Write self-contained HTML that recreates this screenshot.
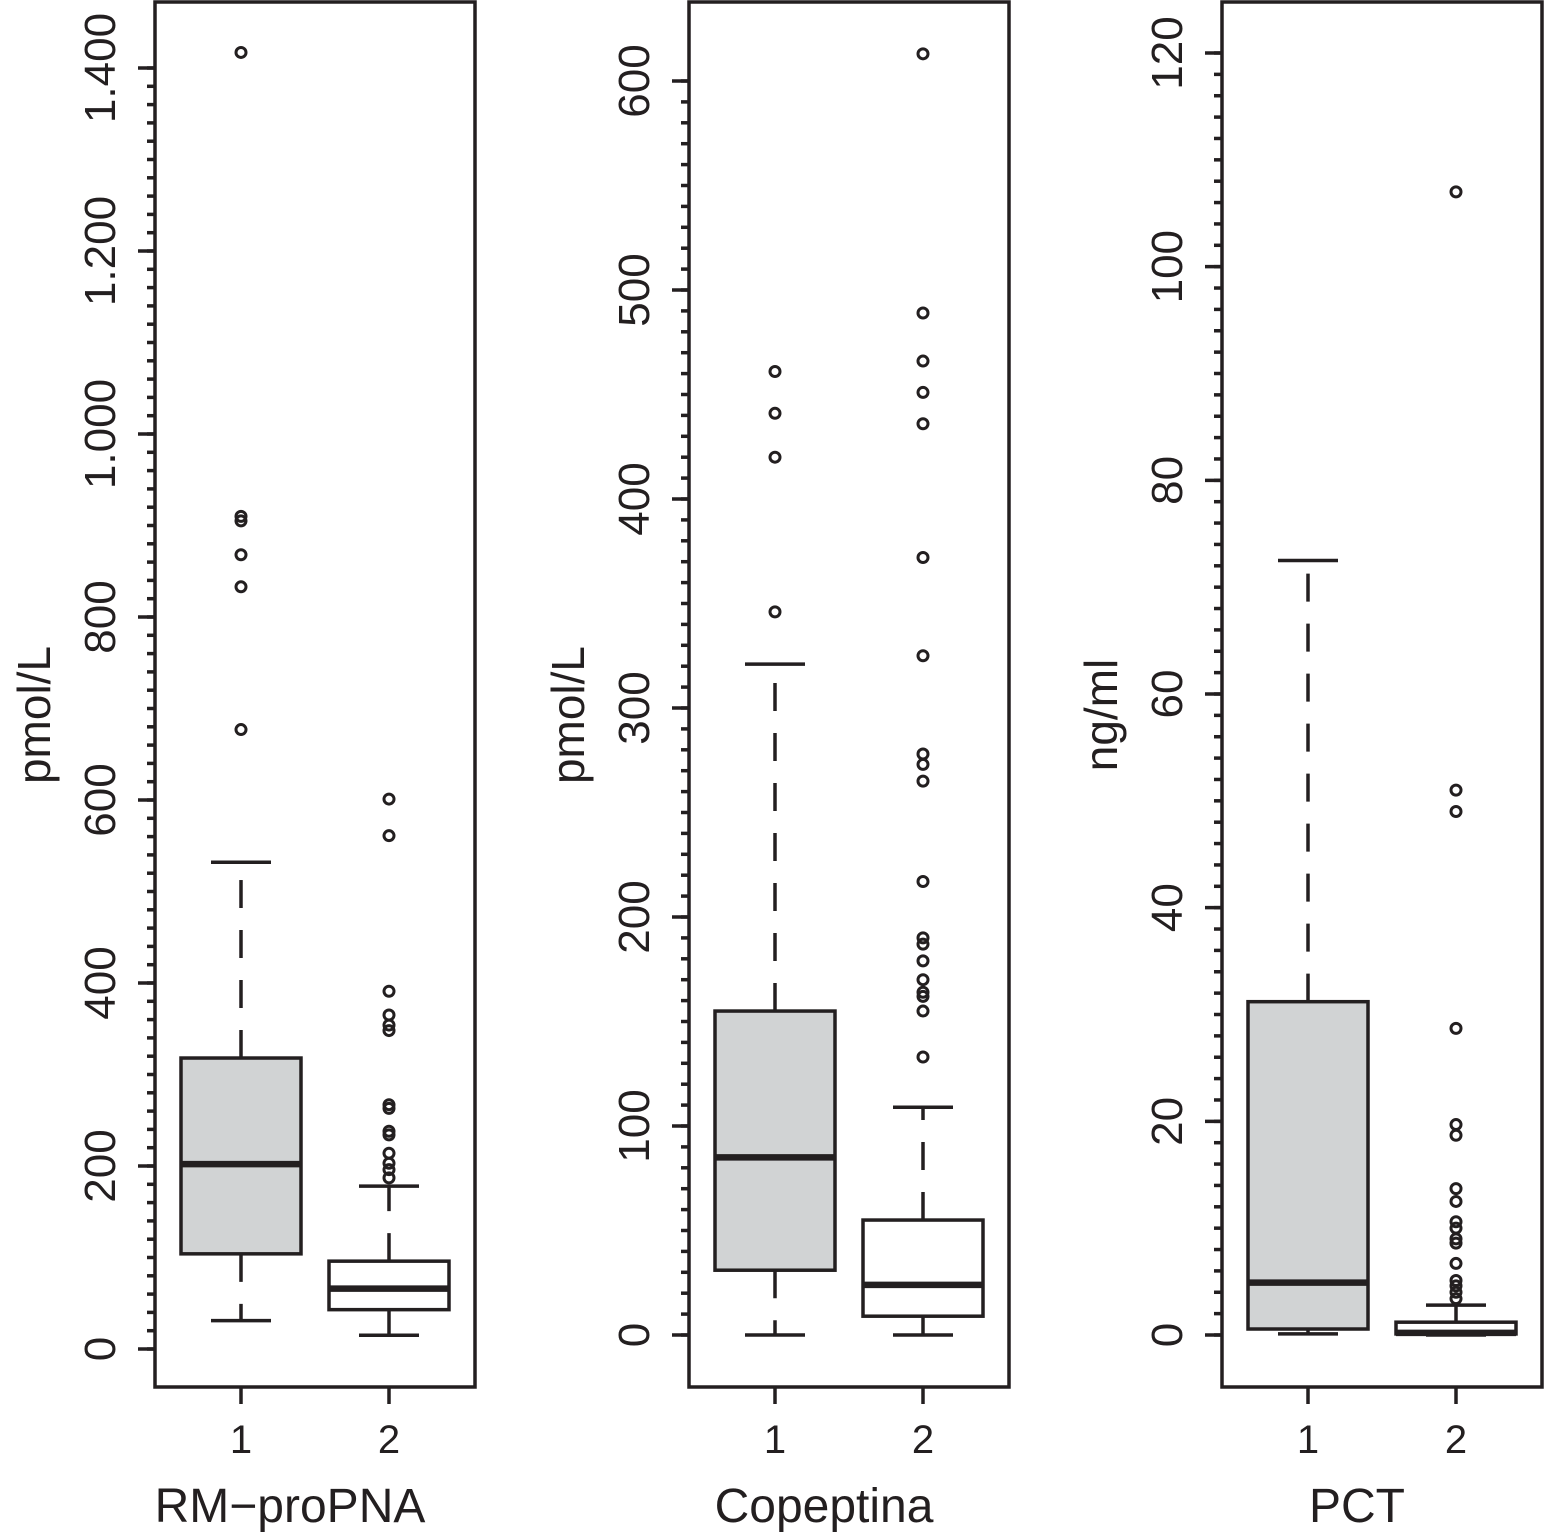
<!DOCTYPE html>
<html><head><meta charset="utf-8"><style>
html,body{margin:0;padding:0;background:#fff}
svg{display:block;font-family:"Liberation Sans",sans-serif}
</style></head><body>
<svg id="c" width="1545" height="1533" viewBox="0 0 1545 1533"></svg>
<script>
// Panel 1: RM-proPNA
const p1Stats=[[31,104,202,318,532],[15,43,66,96,178]];
const p1Out=[[1417,833,868,905,910,677],[601,561,391,365,354,348,267,263,238,234,214,203,196,187]];
const p1Ticks=[0,200,400,600,800,1000,1200,1400];
const p1TickLabels=["0","200","400","600","800","1.000","1.200","1.400"];
// Panel 2: Copeptina
const p2Stats=[[0,31,85,155,321],[0,9,24,55,109]];
const p2Out=[[461,441,420,346],[613,489,466,451,436,372,325,278,273,265,217,190,187,179,170,164,162,155,133]];
const p2Ticks=[0,100,200,300,400,500,600];
const p2TickLabels=["0","100","200","300","400","500","600"];
// Panel 3: PCT
const p3Stats=[[0.1,0.56,4.9,31.2,72.5],[0,0.1,0.2,1.2,2.8]];
const p3Out=[[],[107,51,49,28.7,19.7,18.7,13.7,12.5,10.6,10,9,8.6,6.7,5.1,4.6,4,3.4]];
const p3Ticks=[0,20,40,60,80,100,120];
const p3TickLabels=["0","20","40","60","80","100","120"];
const groupLabels=["1","2"];
const titles=["RM\u2212proPNA","Copeptina","PCT"];
const ylabels=["pmol/L","pmol/L","ng/ml"];

const svg=document.getElementById('c');
const NS='http://www.w3.org/2000/svg';
function mk(t,a,parent){const e=document.createElementNS(NS,t);for(const k in a)e.setAttribute(k,a[k]);(parent||svg).appendChild(e);return e;}

const panels=[
 {x0:155,stats:p1Stats,out:p1Out,ticks:p1Ticks,tl:p1TickLabels,y0:1349,ytop:68,vtop:1400,minor:20},
 {x0:689,stats:p2Stats,out:p2Out,ticks:p2Ticks,tl:p2TickLabels,y0:1335,ytop:81,vtop:600,minor:10},
 {x0:1222,stats:p3Stats,out:p3Out,ticks:p3Ticks,tl:p3TickLabels,y0:1335,ytop:53,vtop:120,minor:2}
];
const SW=3.5;
panels.forEach((p,pi)=>{
 const g=mk('g',{});
 
 
 const y=v=>p.y0-(v/p.vtop)*(p.y0-p.ytop);
 const x1=p.x0;
 const fr=mk('rect',{x:x1,y:2,width:320,height:1385,fill:'none',stroke:'#231f20','stroke-width':SW},g);
 
 
 for(let v=0;v<=p.vtop+1e-9;v+=p.minor){
  const t=mk('line',{x1:x1-8,x2:x1,y1:y(v),y2:y(v),stroke:'#231f20','stroke-width':SW},g);
  
  
 }
 p.ticks.forEach((v,i)=>{
  const t=mk('line',{x1:x1-17,x2:x1,y1:y(v),y2:y(v),stroke:'#231f20','stroke-width':SW},g);
  
  
  const lx=x1-40, ly=y(v);
  const tx=mk('text',{x:lx,y:ly,'font-size':44,fill:'#231f20','text-anchor':'middle',transform:`rotate(-90 ${lx} ${ly})`},g);
  tx.textContent=p.tl[i];
  
  
 });
 const yl=mk('text',{x:x1-105,y:715,'font-size':46,fill:'#231f20','text-anchor':'middle',transform:`rotate(-90 ${x1-105} 715)`},g);
 yl.textContent=ylabels[pi];
 
 
 const tt=mk('text',{x:x1+135,y:1522,'font-size':48,fill:'#231f20','text-anchor':'middle'},g);
 tt.textContent=titles[pi];
 
 
 p.stats.forEach((s,gi)=>{
  const cx=x1+86+gi*148;
  const xt=mk('line',{x1:cx,x2:cx,y1:1387,y2:1404,stroke:'#231f20','stroke-width':SW},g);
  
  
  const xl=mk('text',{x:cx,y:1453,'font-size':40,fill:'#231f20','text-anchor':'middle'},g);
  xl.textContent=groupLabels[gi];
  
  
  const [lo,q1,md,q3,hi]=s;
  const dash={stroke:'#231f20','stroke-width':SW,'stroke-dasharray':'28 22'};
  const w1=mk('line',Object.assign({x1:cx,x2:cx,y1:y(q3),y2:y(hi)},dash),g);
  
  
  const w2=mk('line',Object.assign({x1:cx,x2:cx,y1:y(q1),y2:y(lo)},dash),g);
  
  
  [hi,lo].forEach(v=>{
   const c=mk('line',{x1:cx-30,x2:cx+30,y1:y(v),y2:y(v),stroke:'#231f20','stroke-width':SW},g);
   
   
  });
  const b=mk('rect',{x:cx-60,y:y(q3),width:120,height:Math.max(1,y(q1)-y(q3)),fill:gi==0?'#d1d3d4':'#fff',stroke:'#231f20','stroke-width':SW},g);
  
  
  const m=mk('line',{x1:cx-60,x2:cx+60,y1:y(md),y2:y(md),stroke:'#231f20','stroke-width':6.5},g);
  
  
  p.out[gi].forEach(v=>{
   const o=mk('circle',{cx:cx,cy:y(v),r:5,fill:'none',stroke:'#231f20','stroke-width':3},g);
   
   
  });
 });
});
</script>
</body></html>
